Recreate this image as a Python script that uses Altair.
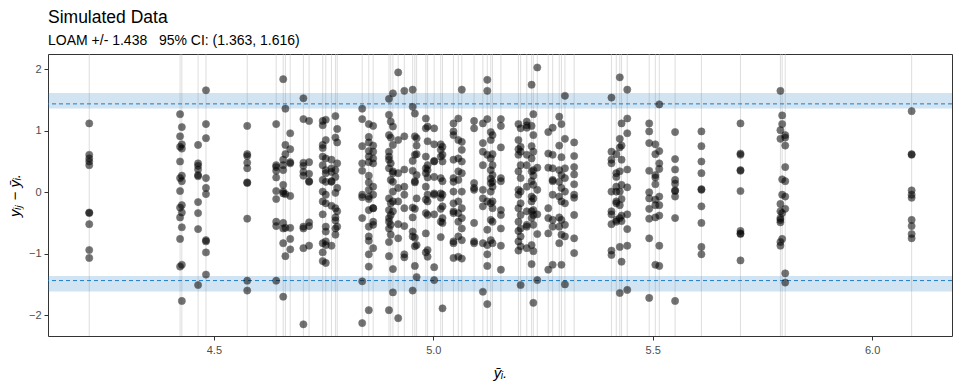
import altair as alt
import pandas as pd

# subject means (x) and deviations y_ij - ybar_i (y)
means = [4.216, 4.423, 4.427, 4.464, 4.482, 4.576, 4.642, 4.658, 4.663, 4.674,
         4.704, 4.717, 4.748, 4.755, 4.768, 4.777, 4.781, 4.838, 4.853, 4.863,
         4.899, 4.903, 4.908, 4.920, 4.934, 4.953, 4.958, 4.962, 4.983, 4.987,
         5.002, 5.017, 5.021, 5.046, 5.057, 5.065, 5.093, 5.113, 5.123, 5.131,
         5.135, 5.154, 5.194, 5.199, 5.213, 5.224, 5.228, 5.237, 5.262, 5.272,
         5.287, 5.292, 5.300, 5.321, 5.406, 5.417, 5.425, 5.429, 5.442, 5.492,
         5.506, 5.515, 5.551, 5.611, 5.700, 5.791, 5.795, 5.802, 6.090]

devs = [
    [1.12, 0.61, 0.55, 0.50, 0.44, -0.34, -0.33, -0.52, -0.94, -1.07],
    [1.27, 0.91, 0.74, 0.50, 0.23, 0.02, -0.25, -0.41, -0.76, -1.21],
    [1.06, 0.78, 0.71, 0.27, 0.18, -0.21, -0.33, -0.57, -1.18, -1.77],
    [0.77, 0.47, 0.43, 0.37, 0.28, 0.26, -0.16, -0.34, -0.60, -1.51],
    [1.66, 1.11, 0.88, 0.23, 0.07, -0.03, -0.78, -0.80, -0.98, -1.34],
    [1.08, 0.62, 0.59, 0.48, 0.39, 0.15, 0.16, -0.43, -1.44, -1.60],
    [1.11, 0.44, 0.41, 0.35, 0.24, 0.02, -0.11, -0.48, -0.55, -1.44],
    [1.84, 0.53, 0.44, 0.36, 0.12, 0.01, -0.02, -0.50, -0.59, -0.83, -1.70],
    [1.36, 0.77, 0.62, -0.03, -0.58, -1.04],
    [0.96, 0.70, 0.49, 0.47, -0.06, -0.58, -0.76, -0.93],
    [1.53, 1.19, 0.48, 0.43, 0.33, 0.27, -0.56, -0.59, -0.91, -2.15],
    [1.16, 0.49, 0.30, 0.17, 0.18, -0.49, -0.55, -0.87],
    [1.16, 1.09, 0.77, 0.72, 0.58, 0.44, 0.20, 0.01, -0.15, -0.36, -0.83, -0.98, -1.12],
    [1.18, 0.85, 0.55, 0.36, 0.31, 0.17, -0.04, -0.18, -0.56, -0.64, -0.80, -0.86, -1.15],
    [0.53, 0.39, 0.33, 0.18, 0.17, -0.22, -0.87],
    [1.24, 0.89, 0.36, 0.25, -0.01, -0.26, -0.41, -0.46, -0.59, -0.69],
    [1.03, 0.81, 0.47, 0.07, -0.31, -0.56],
    [1.36, 1.19, 0.75, 0.47, 0.35, -0.04, -0.08, -0.42, -1.45, -2.13],
    [1.11, 0.90, 0.81, 0.67, 0.58, 0.49, 0.27, 0.16, 0.04, -0.07, -0.11, -0.29, -0.56, -0.72, -0.79, -1.01, -1.21, -1.92],
    [1.08, 0.76, 0.66, 0.55, 0.47, 0.09, -0.04, -0.26, -0.26, -0.48, -0.53, -0.91],
    [1.52, 1.26, 0.93, 0.66, 0.58, 0.53, 0.39, -0.10, -0.29, -0.42, -0.48, -0.59, -0.81, -1.04, -1.92],
    [1.15, 0.89, 0.47, 0.20, -0.18, -0.37, -0.53, -0.69],
    [1.61, 1.07, 0.77, 0.34, 0.31, 0.17, 0.01, -0.15, -0.31, -1.25, -1.63],
    [1.95, 0.85, 0.31, 0.07, -0.15, -0.52, -0.75, -2.05],
    [1.65, 0.91, 0.37, 0.09, -0.04, -0.26, -0.55, -1.01, -1.06],
    [1.67, 1.39, 0.51, 0.35, -0.25, -0.41, -0.64, -0.72, -1.60],
    [1.28, 0.91, 0.61, 0.18, 0.16, -0.27, -0.74, -0.88, -1.20],
    [0.88, 0.76, 0.62, 0.28, -0.10, -0.86, -1.38],
    [1.20, 1.04, 0.58, 0.39, 0.31, 0.09, -0.12, -0.34, -0.67, -0.98],
    [1.07, 0.83, 0.44, 0.36, 0.24, -0.04, -0.15, -0.37, -0.94, -1.05],
    [1.04, 0.78, 0.51, 0.50, 0.25, -0.02, -0.04, -0.36, -1.22, -1.43],
    [0.78, 0.69, 0.58, 0.23, -0.02, -0.09, -0.27, -0.48, -0.73],
    [0.74, 0.61, 0.50, 0.18, -0.04, -0.23, -0.42, -0.50, -1.89],
    [1.12, 0.99, 0.93, 0.53, 0.23, 0.17, 0.01, -0.18, -0.31, -0.34, -0.80, -0.83, -1.07],
    [1.20, 0.85, 0.55, 0.34, 0.20, -0.15, -0.34, -0.48, -0.72, -1.05],
    [1.67, 0.82, 0.69, 0.50, 0.31, 0.01, -0.26, -0.42, -0.59, -0.78, -1.08],
    [1.16, 1.04, 0.15, 0.07, 0.04, -0.50, -0.80, -0.83],
    [1.12, 0.80, 0.66, 0.44, 0.04, -0.10, -0.23, -0.83, -1.62],
    [1.83, 1.65, 1.19, 0.61, -0.15, -0.61, -0.86, -1.01, -1.20, -1.82],
    [0.98, 0.85, 0.55, 0.36, 0.22, 0.15, 0.01, -0.18, -0.45, -0.78],
    [0.93, 0.62, 0.44, 0.28, 0.17, 0.09, -0.15, -0.26, -0.48, -0.83],
    [1.19, 1.08, 0.73, 0.23, 0.18, -0.29, -0.37, -0.59, -0.87, -1.26],
    [1.11, 0.85, 0.70, 0.61, 0.34, 0.04, -0.04, -0.26, -0.48, -0.63, -0.80, -0.95],
    [1.04, 0.74, 0.66, 0.44, 0.23, 0.01, -0.18, -0.37, -0.59, -0.72, -0.88, -1.51],
    [1.15, 1.09, 1.05, 0.61, 0.44, 0.09, -0.31, -0.53, -0.56, -0.91],
    [1.75, 1.08, 0.75, 0.55, 0.34, 0.18, -0.07, -0.15, -0.31, -0.42, -0.86, -1.17],
    [1.27, 0.93, 0.66, 0.36, 0.27, 0.12, -0.10, -0.29, -0.37, -0.53, -0.96, -1.80],
    [2.03, 0.40, 0.04, -0.36, -0.68, -1.43],
    [0.98, 0.63, 0.40, -0.26, -0.42, -0.67, -1.26],
    [1.05, 0.61, 0.39, 0.20, 0.18, -0.04, -0.45, -0.56, -1.18],
    [1.23, 0.76, 0.36, 0.17, -0.07, -0.41, -0.56, -0.83],
    [1.11, 0.57, 0.28, 0.07, -0.15, -0.45, -0.69, -1.18],
    [1.57, 0.87, 0.39, 0.23, 0.01, -0.18, -0.53, -0.72, -1.50],
    [0.81, 0.59, 0.41, 0.29, 0.13, -0.04, -0.09, -0.37, -0.75, -0.99],
    [1.54, 0.66, 0.53, 0.47, 0.01, -0.31, -0.36, -0.52, -0.95, -1.02],
    [0.62, 0.31, 0.25, 0.09, 0.01, -0.15, -0.18, -0.45, -0.48],
    [1.87, 0.87, 0.73, 0.34, 0.01, -0.21, -0.42, -0.89, -1.64],
    [1.12, 0.76, 0.53, 0.12, -0.11, -0.38, -0.47, -1.13],
    [1.67, 1.20, 0.96, 0.37, 0.08, -0.36, -0.60, -0.87, -1.59],
    [1.12, 0.99, 0.80, 0.35, 0.00, -0.10, -0.27, -0.43, -0.75, -1.72],
    [0.78, 0.62, 0.28, 0.24, 0.13, -0.12, -0.21, -0.41, -1.18],
    [1.43, 0.67, 0.47, 0.38, -0.07, -0.21, -0.38, -0.87, -1.20],
    [0.98, 0.54, 0.37, 0.20, 0.14, 0.03, 0.02, -0.07, -0.42, -1.77],
    [0.99, 0.75, 0.50, 0.31, 0.05, 0.04, -0.23, -0.50, -0.89, -1.01],
    [1.12, 0.63, 0.61, 0.35, 0.36, 0.02, -0.63, -0.67, -0.68, -1.11],
    [1.65, 1.01, 0.87, -0.19, -0.31, -0.42, -0.45, -0.49, -0.81, -0.87],
    [1.25, 1.11, 0.21, -0.04, -0.34, -0.76],
    [0.93, 0.89, 0.76, 0.41, 0.18, -0.07, -0.27, -1.32, -1.47],
    [1.32, 0.61, 0.62, 0.03, -0.04, -0.09, -0.45, -0.55, -0.68, -0.75],
]

loam = 1.438
ci_low, ci_high = 1.363, 1.616
x_ticks = [4.5, 5.0, 5.5, 6.0]
y_ticks = [-2, -1, 0, 1, 2]

rows = []
for m, ds in zip(means, devs):
    for d in ds:
        rows.append({"mean": m, "dev": d})
points_df = pd.DataFrame(rows)
subj_df = pd.DataFrame({"mean": means})
band_df = pd.DataFrame({"lo": [ci_low, -ci_high], "hi": [ci_high, -ci_low]})
loam_df = pd.DataFrame({"y": [loam, -loam]})

xs = alt.Scale(domain=[4.122, 6.182], nice=False, zero=False)
ys = alt.Scale(domain=[-2.34, 2.25], nice=False, zero=False)
x_axis = alt.Axis(values=x_ticks, format=".1f", title="ȳᵢ.", titleFontStyle="italic",
                  titlePadding=10, labelPadding=4)
y_axis = alt.Axis(values=y_ticks, format="d", title="yᵢⱼ − ȳᵢ.", titleFontStyle="italic",
                  titlePadding=6, labelPadding=3)

vlines = alt.Chart(subj_df).mark_rule(color="#bdbdbd", opacity=0.5, strokeWidth=1).encode(
    x=alt.X("mean:Q", scale=xs, axis=x_axis)
)
bands = alt.Chart(band_df).mark_rect(color="#3182bd", opacity=0.22).encode(
    y=alt.Y("lo:Q", scale=ys, axis=y_axis), y2="hi:Q"
)
lines = alt.Chart(loam_df).mark_rule(color="#1b7dc4", strokeDash=[4, 3], strokeWidth=1).encode(
    y=alt.Y("y:Q", scale=ys, axis=y_axis)
)
pts = alt.Chart(points_df).mark_circle(size=52, color="#000000", opacity=0.55,
                                       stroke="#000000", strokeWidth=0.6).encode(
    x=alt.X("mean:Q", scale=xs, axis=x_axis),
    y=alt.Y("dev:Q", scale=ys, axis=y_axis),
)

subtitle_text = "LOAM +/- 1.438\u00a0\u00a0\u00a095% CI: (1.363, 1.616)"

chart = alt.layer(vlines, bands, lines, pts).properties(
    width=904, height=282,
    autosize=alt.AutoSizeParams(type="none"),
    padding={"left": 48, "top": 54, "right": 8, "bottom": 48},
    title=alt.TitleParams(
        "Simulated Data",
        subtitle=subtitle_text,
        anchor="start", frame="group", offset=6,
        font="Liberation Sans", fontSize=17.5, fontWeight="normal", color="black",
        subtitleFont="Liberation Sans", subtitleFontSize=14, subtitleColor="black",
        subtitlePadding=7,
    ),
).configure_view(stroke="#333333", strokeWidth=1).configure_axis(
    grid=False, domain=False, tickColor="#333333", tickSize=4, tickWidth=1,
    labelColor="#4d4d4d", labelFontSize=11, labelFont="Liberation Sans",
    titleFont="Liberation Sans", titleFontSize=15, titleFontWeight="normal", titleColor="black",
)

chart.save("out.html", embed_options={"renderer": "svg", "actions": False})
